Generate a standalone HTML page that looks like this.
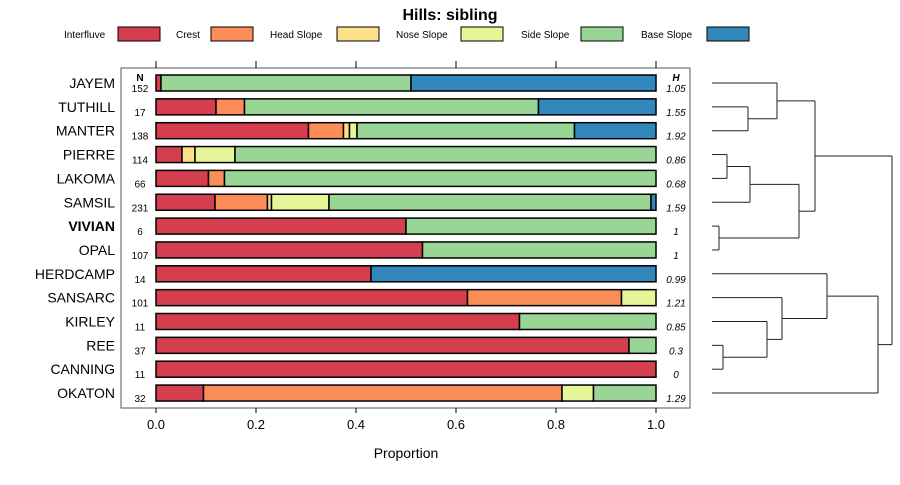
<!DOCTYPE html>
<html><head><meta charset="utf-8"><style>
body{margin:0;background:#fff;font-family:"Liberation Sans",sans-serif}
</style></head><body>
<svg id="c" width="900" height="480" xmlns="http://www.w3.org/2000/svg" font-family="Liberation Sans, sans-serif">
<text x="450" y="20" text-anchor="middle" font-size="16" font-weight="bold">Hills: sibling</text>
<g id="legend"></g>
<rect x="121" y="68" width="569" height="340" fill="none" stroke="#555" stroke-width="1"/>
<text x="140" y="81" text-anchor="middle" font-size="10" font-weight="bold">N</text>
<text x="676" y="81" text-anchor="middle" font-size="10" font-weight="bold" font-style="italic">H</text>
<g id="bars"></g>
<g id="axis"></g>
<text x="406" y="458" text-anchor="middle" font-size="14">Proportion</text>
<g id="dendro" fill="none" stroke="#222" stroke-width="1"></g>
</svg>
<script>
const classes=["Interfluve","Crest","Head Slope","Nose Slope","Side Slope","Base Slope"];
const colors=["#D53E4F","#FC8D59","#FEE08B","#E6F598","#99D594","#3288BD"];
const series=["JAYEM","TUTHILL","MANTER","PIERRE","LAKOMA","SAMSIL","VIVIAN","OPAL","HERDCAMP","SANSARC","KIRLEY","REE","CANNING","OKATON"];
const interfluve=[0.01,0.12,0.305,0.052,0.105,0.118,0.5,0.533,0.43,0.623,0.727,0.946,1,0.095];
const crest=[0,0.057,0.07,0,0.032,0.105,0,0,0,0.308,0,0,0,0.717];
const headSlope=[0,0,0.012,0.026,0,0.008,0,0,0,0,0,0,0,0];
const noseSlope=[0,0,0.015,0.08,0,0.115,0,0,0,0.069,0,0,0,0.063];
const sideSlope=[0.5,0.588,0.435,0.842,0.863,0.644,0.5,0.467,0,0,0.273,0.054,0,0.125];
const baseSlope=[0.49,0.235,0.163,0,0,0.01,0,0,0.57,0,0,0,0,0];
const nVals=[152,17,138,114,66,231,6,107,14,101,11,37,11,32];
const hVals=["1.05","1.55","1.92","0.86","0.68","1.59","1","1","0.99","1.21","0.85","0.3","0","1.29"];
const ticks=[0,0.2,0.4,0.6,0.8,1.0];
const tickLabels=["0.0","0.2","0.4","0.6","0.8","1.0"];
const NS="http://www.w3.org/2000/svg";
function mk(t,a,p){const e=document.createElementNS(NS,t);for(const k in a)e.setAttribute(k,a[k]);p.appendChild(e);return e;}
const x=v=>156+v*500;
const y=i=>83+i*23.85;
const all=[interfluve,crest,headSlope,noseSlope,sideSlope,baseSlope];
// legend
const lg=document.getElementById('legend');
const lgText=[64,176,270,396,521,641],lgRect=[118,211,337,461,581,707];
classes.forEach((c,k)=>{
 const t=mk('text',{x:lgText[k],y:38,'font-size':10},lg);t.textContent=c;
 
 
 const r=mk('rect',{x:lgRect[k],y:27,width:42,height:14,fill:colors[k],stroke:'#000','stroke-width':1},lg);
 
 
});
const bg=document.getElementById('bars');
series.forEach((s,i)=>{
 const cy=y(i);
 const l=mk('text',{x:115,y:cy+5,'text-anchor':'end','font-size':14,'font-weight':s==='VIVIAN'?'bold':'normal'},bg);l.textContent=s;
 
 
 const n=mk('text',{x:140,y:cy+9,'text-anchor':'middle','font-size':10},bg);n.textContent=nVals[i];
 
 
 const h=mk('text',{x:676,y:cy+9,'text-anchor':'middle','font-size':10,'font-style':'italic'},bg);h.textContent=hVals[i];
 
 
 let acc=0;
 all.forEach((arr,k)=>{
  const v=arr[i];if(v<=0)return;
  const r=mk('rect',{x:x(acc),y:cy-8,width:x(acc+v)-x(acc),height:16,fill:colors[k],stroke:'#000','stroke-width':1.5},bg);
  
  
  acc+=v;
 });
});
const ax=document.getElementById('axis');
ticks.forEach((t,k)=>{
 mk('line',{x1:x(t),x2:x(t),y1:408,y2:413,stroke:'#000'},ax);
 mk('line',{x1:x(t),x2:x(t),y1:61,y2:68,stroke:'#000'},ax);
 const tl=mk('text',{x:x(t),y:429,'text-anchor':'middle','font-size':13},ax);tl.textContent=tickLabels[k];
 
 
});
// dendrogram
const dg=document.getElementById('dendro');
const L=712;
function seg(x1,y1,x2,y2){mk('line',{x1,y1,x2,y2},dg);}
function merge(ya,xa,yb,xb,h){seg(xa,ya,h,ya);seg(xb,yb,h,yb);seg(h,ya,h,yb);return [(ya+yb)/2,h];}
const a=merge(y(1),L,y(2),L,748);
const b=merge(y(0),L,a[0],a[1],777);
const c=merge(y(3),L,y(4),L,727);
const d=merge(c[0],c[1],y(5),L,750);
const e=merge(y(6),L,y(7),L,719);
const f=merge(d[0],d[1],e[0],e[1],799);
const g=merge(b[0],b[1],f[0],f[1],815);
const h1=merge(y(11),L,y(12),L,723);
const h2=merge(y(10),L,h1[0],h1[1],767);
const h3=merge(y(9),L,h2[0],h2[1],782);
const h4=merge(y(8),L,h3[0],h3[1],827);
const h5=merge(h4[0],h4[1],y(13),L,878);
merge(g[0],g[1],h5[0],h5[1],892);
</script>
</body></html>
